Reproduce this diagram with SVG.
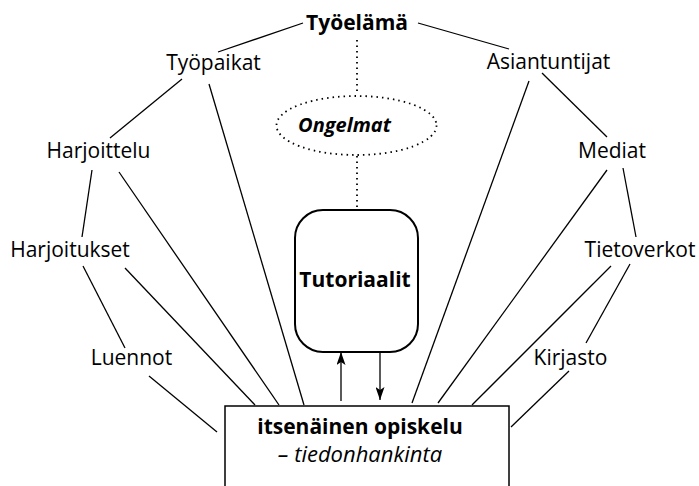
<svg xmlns="http://www.w3.org/2000/svg" width="699" height="486" viewBox="0 0 699 486">
  <defs>
    <marker id="arrow" markerWidth="13" markerHeight="9" refX="13" refY="4.5" orient="auto" markerUnits="userSpaceOnUse" viewBox="0 0 13 9">
      <path d="M0,0 L13,4.5 L0,9 L3,4.5 Z" fill="#000"/>
    </marker>
    <style>
      text { font-family: "Open Sans", "Noto Sans", "Liberation Sans", sans-serif; fill: #000; text-anchor: middle; }
      .lbl { font-size: 21px; }
      .bold { font-weight: bold; }
      .ital { font-style: italic; }
      .link { stroke: #000; stroke-width: 1.3; fill: none; }
      .dots { stroke: #000; stroke-width: 1.8; fill: none; stroke-dasharray: 1.5 4; }
    </style>
  </defs>
  <rect width="699" height="486" fill="#fff"/>

  <!-- connectors -->
  <g id="connectors">
    <line class="link" x1="303" y1="23" x2="218" y2="52"/>
    <line class="link" x1="418" y1="23" x2="509" y2="49"/>
    <line class="link" x1="182" y1="79" x2="110" y2="138"/>
    <line class="link" x1="209" y1="84" x2="304" y2="405"/>
    <line class="link" x1="92" y1="170" x2="82" y2="237"/>
    <line class="link" x1="119" y1="172" x2="279" y2="405"/>
    <line class="link" x1="83" y1="266" x2="125" y2="348"/>
    <line class="link" x1="125" y1="268" x2="255" y2="405"/>
    <line class="link" x1="149" y1="376" x2="217" y2="432"/>
    <line class="link" x1="529" y1="81" x2="412" y2="403"/>
    <line class="link" x1="542" y1="73" x2="607" y2="137"/>
    <line class="link" x1="607" y1="170" x2="438" y2="403"/>
    <line class="link" x1="623" y1="168" x2="636" y2="237"/>
    <line class="link" x1="611" y1="266" x2="472" y2="405"/>
    <line class="link" x1="630" y1="264" x2="586" y2="343"/>
    <line class="link" x1="569" y1="371" x2="511" y2="427"/>
    <line class="dots" x1="357" y1="40" x2="357" y2="95"/>
    <line class="dots" x1="357" y1="156" x2="357" y2="209"/>
    <line class="link" x1="341" y1="401" x2="341" y2="352" marker-end="url(#arrow)"/>
    <line class="link" x1="380" y1="352" x2="380" y2="400" marker-end="url(#arrow)"/>
  </g>

  <g id="tyoelama"><text class="lbl bold" x="357" y="30">Työelämä</text></g>
  <g id="tyopaikat"><text class="lbl" x="213.5" y="70">Työpaikat</text></g>
  <g id="asiantuntijat"><text class="lbl" x="548.5" y="69">Asiantuntijat</text></g>
  <g id="harjoittelu"><text class="lbl" x="98.5" y="158">Harjoittelu</text></g>
  <g id="mediat"><text class="lbl" x="612" y="158">Mediat</text></g>
  <g id="harjoitukset"><text class="lbl" x="70" y="257">Harjoitukset</text></g>
  <g id="tietoverkot"><text class="lbl" x="640" y="257">Tietoverkot</text></g>
  <g id="luennot"><text class="lbl" x="131.5" y="365">Luennot</text></g>
  <g id="kirjasto"><text class="lbl" x="570.5" y="365">Kirjasto</text></g>

  <g id="ongelmat">
    <ellipse class="dots" cx="356.5" cy="125.5" rx="80" ry="29.5"/>
    <text class="bold ital" x="344.5" y="132" font-size="20">Ongelmat</text>
  </g>

  <g id="tutoriaalit">
    <rect x="295" y="210" width="123" height="142" rx="28" ry="28" fill="#fff" stroke="#000" stroke-width="2"/>
    <text class="lbl bold" x="355" y="287">Tutoriaalit</text>
  </g>

  <g id="opiskelu">
    <rect x="225" y="406" width="284" height="90" fill="#fff" stroke="#000" stroke-width="1.5"/>
    <text class="lbl bold" x="360" y="434">itsenäinen opiskelu</text>
    <text class="ital" x="360" y="462" font-size="22">– tiedonhankinta</text>
  </g>
</svg>
